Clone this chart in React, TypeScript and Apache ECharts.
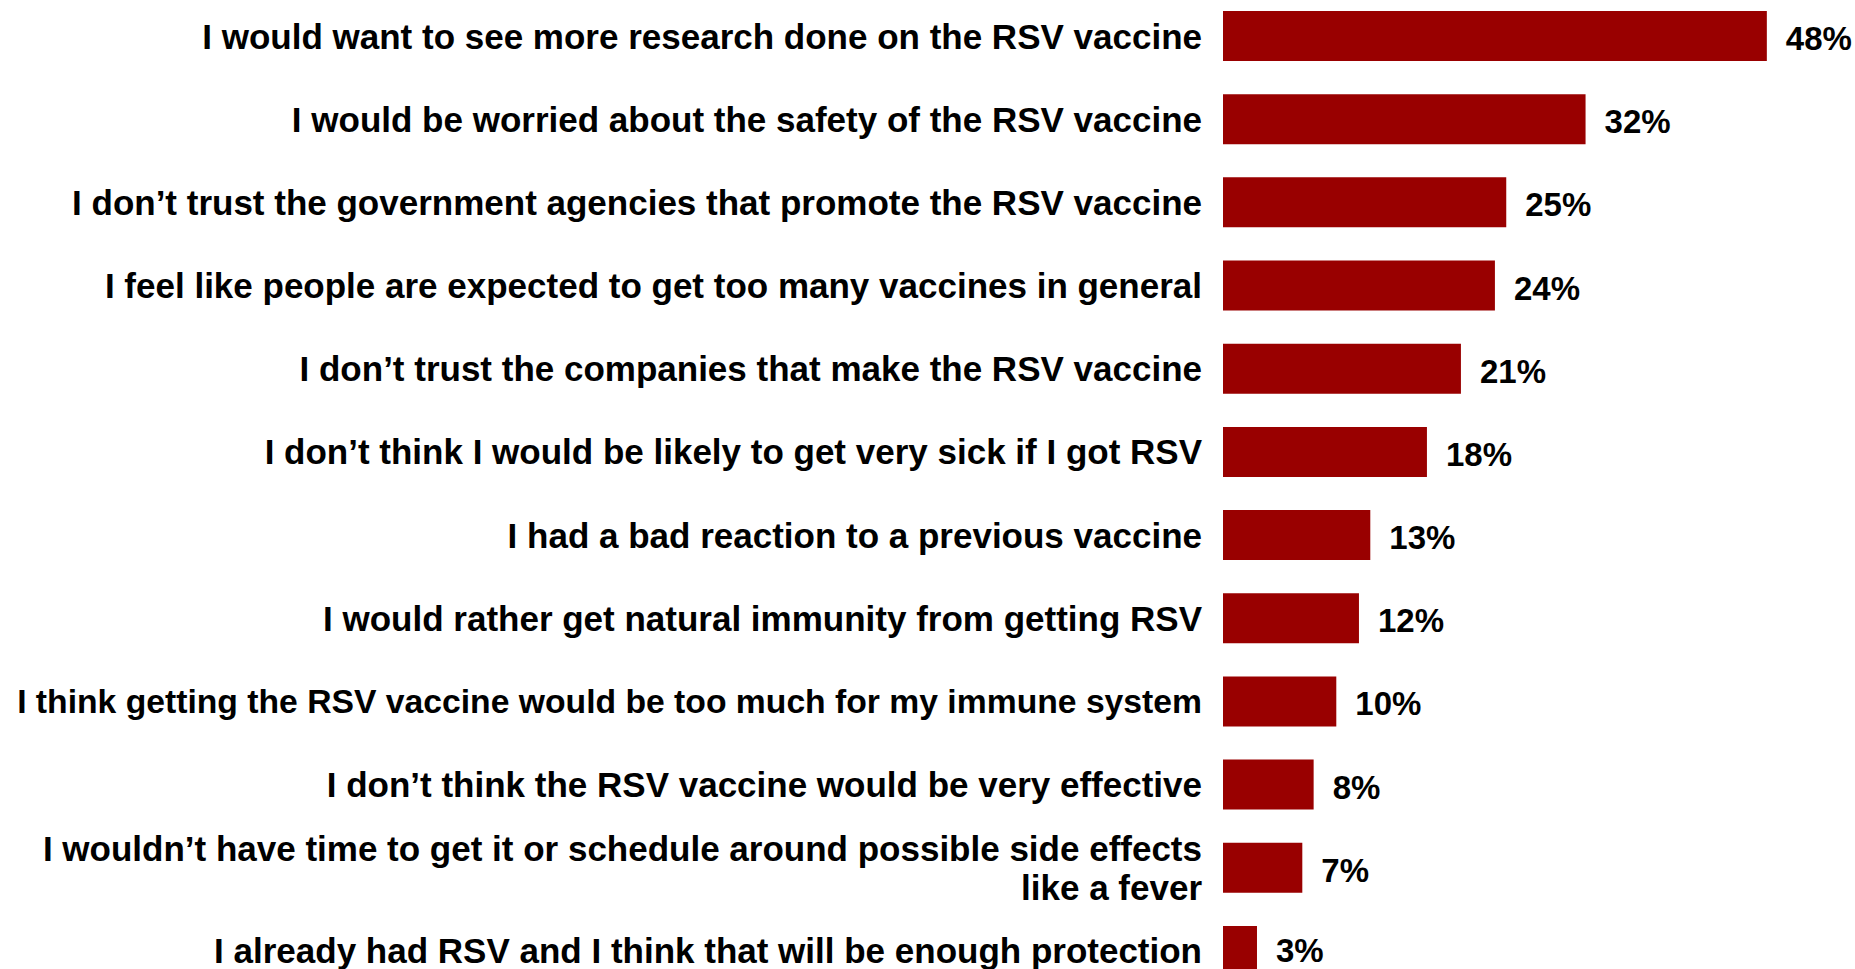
import React, { useEffect, useRef } from "react";
import * as echarts from "echarts";

const categories: string[] = [
  "I would want to see more research done on the RSV vaccine",
  "I would be worried about the safety of the RSV vaccine",
  "I don’t trust the government agencies that promote the RSV vaccine",
  "I feel like people are expected to get too many vaccines in general",
  "I don’t trust the companies that make the RSV vaccine",
  "I don’t think I would be likely to get very sick if I got RSV",
  "I had a bad reaction to a previous vaccine",
  "I would rather get natural immunity from getting RSV",
  "I think getting the RSV vaccine would be too much for my immune system",
  "I don’t think the RSV vaccine would be very effective",
  "I wouldn’t have time to get it or schedule around possible side effects\nlike a fever",
  "I already had RSV and I think that will be enough protection",
];

const values: number[] = [48, 32, 25, 24, 21, 18, 13, 12, 10, 8, 7, 3];

const FONT = "'Liberation Sans', Arial, Helvetica, sans-serif";

export default function App() {
  const ref = useRef<HTMLDivElement>(null);

  useEffect(() => {
    if (!ref.current) return;
    const chart = echarts.init(ref.current, undefined, { renderer: "svg" });
    const pitch = 83.18;
    const firstCenter = 36;
    const catData = categories.map((c) =>
      c.startsWith("I think getting")
        ? { value: c, textStyle: { fontSize: 33.7 } }
        : { value: c }
    );
    const barData = values.map((v, i) =>
      i === values.length - 1
        ? { value: v, label: { offset: [0, 0] } }
        : { value: v }
    );
    chart.setOption({
      animation: false,
      backgroundColor: "#ffffff",
      grid: {
        left: 1223,
        width: 566.5,
        top: firstCenter - pitch / 2,
        height: pitch * categories.length,
        containLabel: false,
        outerBoundsMode: "none",
      },
      xAxis: {
        type: "value",
        min: 0,
        max: 50,
        show: false,
      },
      yAxis: {
        type: "category",
        inverse: true,
        data: catData,
        axisLine: { show: false },
        axisTick: { show: false },
        splitLine: { show: false },
        axisLabel: {
          interval: 0,
          margin: 21,
          color: "#000000",
          fontFamily: FONT,
          fontWeight: "bold",
          fontSize: 35,
          lineHeight: 39,
          align: "right",
          verticalAlign: "middle",
          padding: [0, 0, 13, 0],
        },
      },
      series: [
        {
          type: "bar",
          data: barData,
          barWidth: 50,
          itemStyle: { color: "#990000" },
          label: {
            show: true,
            position: "right",
            distance: 19,
            formatter: "{c}%",
            color: "#000000",
            fontFamily: FONT,
            fontWeight: "bold",
            fontSize: 33,
            lineHeight: 30,
            offset: [0, 2.5],
          },
        },
      ],
    });
    return () => chart.dispose();
  }, []);

  return (
    <div
      ref={ref}
      style={{ position: "absolute", left: 0, top: 0, width: 1855, height: 969 }}
    />
  );
}
